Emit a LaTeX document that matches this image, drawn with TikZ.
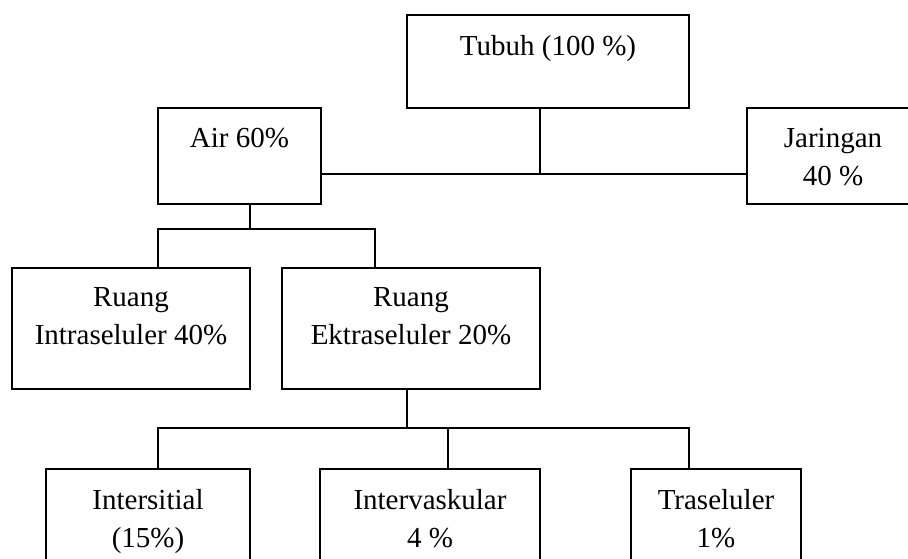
\documentclass[tikz,border=0pt]{standalone}
\usepackage{fontspec}
\setmainfont{Liberation Serif}
\usetikzlibrary{positioning}

\begin{document}
\begin{tikzpicture}[x=0.5pt, y=-0.5pt, line width=0.7pt,
  box/.style={draw, line width=0.7pt, inner sep=0pt},
  txt/.style={align=center, inner sep=0pt, font=\fontsize{14.5}{19}\selectfont}]

  \useasboundingbox (0,0) rectangle (908,558);

  % boxes, sizes in pt = px/2
  \node[box, minimum width=141pt, minimum height=46.5pt] (tubuh)    at (548, 61.5) {};
  \node[box, minimum width=81.5pt, minimum height=48pt]  (air)      at (239.5, 156) {};
  \node[box, minimum width=86pt,  minimum height=48pt]   (jaringan) at (833, 156) {};
  \node[box, minimum width=119pt, minimum height=60.5pt] (intra)    at (131, 328.5) {};
  \node[box, minimum width=129pt, minimum height=60.5pt] (ektra)    at (411, 328.5) {};
  \node[box, minimum width=102pt, minimum height=50pt]   (inters)   at (148, 519) {};
  \node[box, minimum width=110pt, minimum height=50pt]   (interv)   at (430, 519) {};
  \node[box, minimum width=85pt,  minimum height=50pt]   (tras)     at (716, 519) {};

  % texts, near the top of each box
  \node[txt, below=10pt of tubuh.north]    (ttubuh)    {Tubuh (100 \%)};
  \node[txt, below=10pt of air.north]      (tair)      {Air 60\%};
  \node[txt, below=10pt of jaringan.north] (tjaringan) {Jaringan\\40 \%};
  \node[txt, below=10pt of intra.north]    (tintra)    {Ruang\\Intraseluler 40\%};
  \node[txt, below=10pt of ektra.north]    (tektra)    {Ruang\\Ektraseluler 20\%};
  \node[txt, below=10pt of inters.north]   (tinters)   {Intersitial\\(15\%)};
  \node[txt, below=10pt of interv.north]   (tinterv)   {Intervaskular\\4 \%};
  \node[txt, below=10pt of tras.north]     (ttras)     {Traseluler\\1\%};

  % joints of the connectors
  \coordinate (t1) at (540, 174);
  \coordinate (a1) at (250, 229);
  \coordinate (a2) at (158, 229);
  \coordinate (a3) at (375, 229);
  \coordinate (e1) at (407, 428);
  \coordinate (e2) at (158, 428);
  \coordinate (e3) at (448, 428);
  \coordinate (e4) at (689, 428);

  \draw (t1 |- tubuh.south) -- (t1);
  \draw (air.east |- t1) -- (jaringan.west |- t1);

  \draw (a1 |- air.south) -- (a1);
  \draw (a2 |- intra.north) -- (a2) -- (a3) -- (a3 |- ektra.north);

  \draw (e1 |- ektra.south) -- (e1);
  \draw (e2 |- inters.north) -- (e2) -- (e4) -- (e4 |- tras.north);
  \draw (e3) -- (e3 |- interv.north);

\end{tikzpicture}
\end{document}
